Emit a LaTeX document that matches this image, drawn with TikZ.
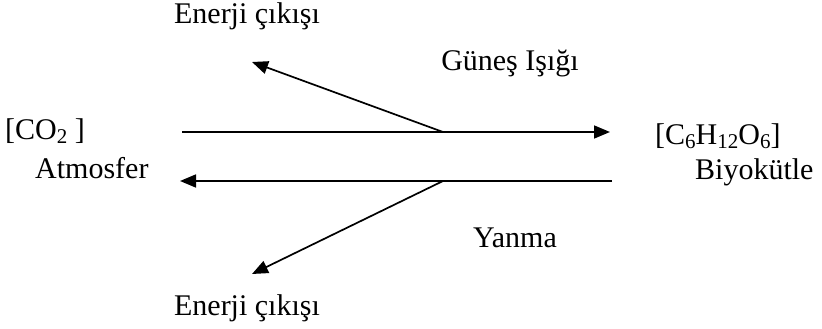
\documentclass[tikz,border=0pt]{standalone}
\usepackage{fontspec}
\setmainfont{Liberation Serif}
\usetikzlibrary{arrows.meta}
\newcommand{\ind}[1]{\raisebox{-0.12em}{\fontsize{21}{21}\selectfont #1}}
\begin{document}
\begin{tikzpicture}[x=1pt,y=-1pt]
		\tikzstyle{etiquette}=[inner sep=0pt,font=\fontsize{30}{33}\selectfont]
		\tikzstyle{fleche}=[line width=1.7pt,-{Triangle[length=16pt,width=13pt]}]
		\useasboundingbox (0,0) rectangle (822,329);
		\coordinate (haut_g) at (182,132);
		\coordinate (haut_d) at (610,132);
		\coordinate (bas_d) at (612,181);
		\coordinate (bas_g) at (180,181);
		\coordinate (noeud_h) at (443,132);
		\coordinate (noeud_b) at (443,181);
		\coordinate (sortie_h) at (252,62);
		\coordinate (sortie_b) at (252,274);
		\node[etiquette] (energie_h) at (247,16) {Enerji çıkışı};
		\node[etiquette] (soleil) at (510,63) {Güneş Işığı};
		\node[etiquette,anchor=west] (co2) at (5,131) {[CO\ind{2} ]};
		\node[etiquette,anchor=west] (atm) at (35,168) {Atmosfer};
		\node[etiquette,anchor=west] (glucose) at (655,136) {[C\ind{6}H\ind{12}O\ind{6}]};
		\node[etiquette,anchor=west] (bio) at (695,172) {Biyokütle};
		\node[etiquette] (yanma) at (515,238) {Yanma};
		\node[etiquette] (energie_b) at (247,308) {Enerji çıkışı};
		\draw[fleche] (haut_g) -- (haut_d); % photosynthese
		\draw[fleche] (bas_d) -- (bas_g); % combustion
		\draw[fleche] (noeud_h) -- (sortie_h);
		\draw[fleche] (noeud_b) -- (sortie_b);
	\end{tikzpicture}
\end{document}
